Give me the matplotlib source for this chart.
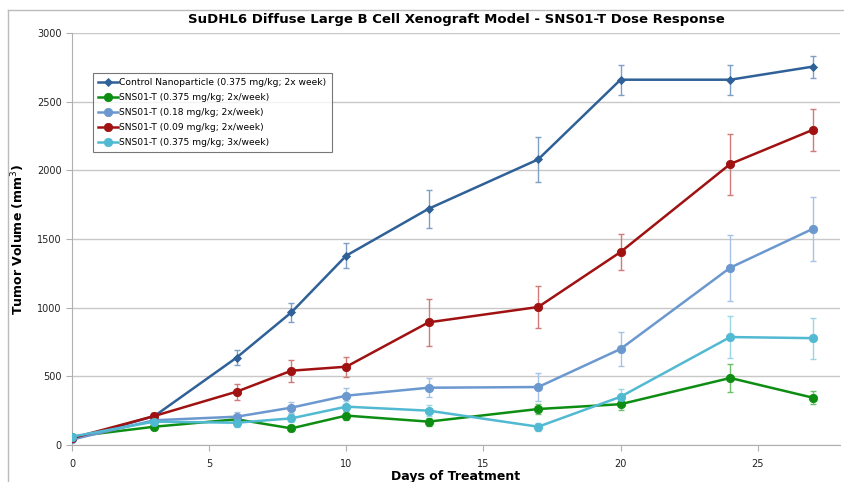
import matplotlib
matplotlib.use('Agg')
import matplotlib.pyplot as plt

days = [0, 3, 6, 8, 10, 13, 17, 20, 24, 27]

control = [40, 210, 636, 966, 1379, 1720, 2080, 2660, 2660, 2755]
control_err = [10, 20, 55, 68, 90, 140, 165, 110, 110, 80]

g375_2x = [60, 133, 187, 121, 214, 170, 262, 297, 488, 345]
g375_2x_err = [10, 20, 25, 20, 30, 30, 40, 45, 105, 50]

b18_2x = [40, 180, 206, 272, 359, 417, 422, 699, 1291, 1573]
b18_2x_err = [10, 20, 35, 40, 58, 70, 100, 125, 240, 230]

r09_2x = [50, 211, 388, 541, 570, 893, 1005, 1405, 2046, 2294]
r09_2x_err = [10, 20, 58, 80, 73, 170, 150, 128, 222, 150]

c375_3x = [61, 170, 162, 194, 279, 250, 133, 351, 786, 778]
c375_3x_err = [10, 20, 30, 30, 40, 40, 30, 55, 150, 150]

labels = ['Control Nanoparticle (0.375 mg/kg; 2x week)',
          'SNS01-T (0.375 mg/kg; 2x/week)',
          'SNS01-T (0.18 mg/kg; 2x/week)',
          'SNS01-T (0.09 mg/kg; 2x/week)',
          'SNS01-T (0.375 mg/kg; 3x/week)']

series = [
    (control, control_err, '#2f6198', '#7f9fc6', 'D', 4),
    (g375_2x, g375_2x_err, '#0d8e12', '#6cc06c', 'o', 6),
    (b18_2x, b18_2x_err, '#6b98cf', '#a6c2e4', 'o', 6),
    (r09_2x, r09_2x_err, '#a01212', '#d07a7a', 'o', 6),
    (c375_3x, c375_3x_err, '#52b9d2', '#9ad6e4', 'o', 6),
]

fig = plt.figure(figsize=(8.45, 4.82), dpi=100)
ax = fig.add_axes([0.0852, 0.0768, 0.9088, 0.8547])

for (vals, err, col, ecol, mk, ms), lab in zip(series, labels):
    ax.errorbar(days, vals, yerr=err, fmt='none', ecolor=ecol, elinewidth=1,
                capsize=2, capthick=1, zorder=2)
    ax.plot(days, vals, color=col, lw=1.8, marker=mk, markersize=ms,
            markerfacecolor=col, markeredgecolor=col, markeredgewidth=0.6,
            label=lab, zorder=3)

ax.set_xlim(0, 28)
ax.set_ylim(0, 3000)
ax.set_xticks([0, 5, 10, 15, 20, 25])
ax.set_yticks(range(0, 3001, 500))
ax.yaxis.grid(True, color='#c8c8c8', lw=1)
ax.set_axisbelow(True)
for s in ['top', 'right']:
    ax.spines[s].set_visible(False)
for s in ['left', 'bottom']:
    ax.spines[s].set_color('#b0b0b0')
ax.tick_params(axis='both', labelsize=7, colors='#b0b0b0', labelcolor='#222222', length=4)
ax.tick_params(axis='x', pad=6)

ax.set_title('SuDHL6 Diffuse Large B Cell Xenograft Model - SNS01-T Dose Response',
             fontsize=9.5, fontweight='bold', pad=7)
ax.set_xlabel('Days of Treatment', fontsize=9, fontweight='bold', labelpad=1)
ax.set_ylabel('Tumor Volume (mm$^3$)', fontsize=9, fontweight='bold', labelpad=7)

leg = ax.legend(loc='upper left', bbox_to_anchor=(0.021, 0.915), fontsize=6.6,
                frameon=True, fancybox=False, borderpad=0.6, labelspacing=0.65,
                handlelength=2.2, handletextpad=0.1)
leg.get_frame().set_edgecolor('#555555')
leg.get_frame().set_linewidth(0.8)

# chart area border
fig.add_artist(plt.Line2D([0.009, 0.009], [0.0, 0.98], color='#bbbbbb', lw=1))
fig.add_artist(plt.Line2D([0.009, 1.0], [0.98, 0.98], color='#bbbbbb', lw=1))

fig.savefig('out.png', dpi=100)
